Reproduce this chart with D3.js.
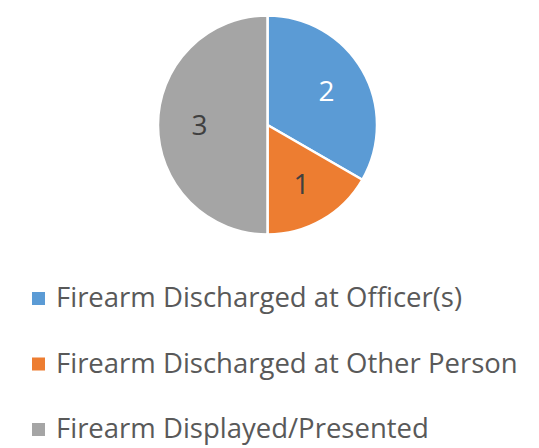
<!DOCTYPE html>
<html>
<head>
<meta charset="utf-8">
<script src="https://cdn.jsdelivr.net/npm/d3@7"></script>
<style>
  body { margin: 0; background: #fff; }
  svg { display: block; font-family: "Open Sans", sans-serif; }
</style>
</head>
<body>
<div id="chart"></div>
<script>
var categories = ["Firearm Discharged at Officer(s)", "Firearm Discharged at Other Person", "Firearm Displayed/Presented"];
var values = [2, 1, 3];
var colors = ["#5B9BD5", "#ED7D31", "#A5A5A5"];
var labelColors = ["#ffffff", "#404040", "#404040"];

var width = 539, height = 448;
var cx = 267.5, cy = 125, radius = 109.5;

var svg = d3.select("#chart")
    .append("svg")
    .attr("width", width)
    .attr("height", height);

var pie = d3.pie().sort(null).value(function(d) { return d; });
var arc = d3.arc().innerRadius(0).outerRadius(radius);
var labelArc = d3.arc().innerRadius(68).outerRadius(68);

var data = pie(values);

var g = svg.append("g")
    .attr("transform", "translate(" + cx + "," + cy + ")");

g.selectAll("path")
    .data(data)
    .enter()
    .append("path")
    .attr("d", arc)
    .attr("fill", function(d, i) { return colors[i]; })
    .attr("stroke", "#fff")
    .attr("stroke-width", 2.5)
    .attr("stroke-linejoin", "round");

g.selectAll("text.lbl")
    .data(data)
    .enter()
    .append("text")
    .attr("class", "lbl")
    .attr("transform", function(d) { return "translate(" + labelArc.centroid(d) + ")"; })
    .attr("text-anchor", "middle")
    .attr("dy", "0.36em")
    .style("font-size", "28px")
    .attr("fill", function(d, i) { return labelColors[i]; })
    .text(function(d) { return d.data; });

// legend
var legend = svg.selectAll("g.leg")
    .data(categories)
    .enter()
    .append("g")
    .attr("class", "leg")
    .attr("transform", function(d, i) { return "translate(32," + (307 + i * 65.5) + ")"; });

legend.append("rect")
    .attr("x", 0)
    .attr("y", -15)
    .attr("width", 13)
    .attr("height", 13)
    .attr("fill", function(d, i) { return colors[i]; });

legend.append("text")
    .attr("x", 24)
    .attr("y", 0)
    .style("font-size", "27.5px")
    .attr("fill", "#595959")
    .text(function(d) { return d; });
</script>
</body>
</html>
